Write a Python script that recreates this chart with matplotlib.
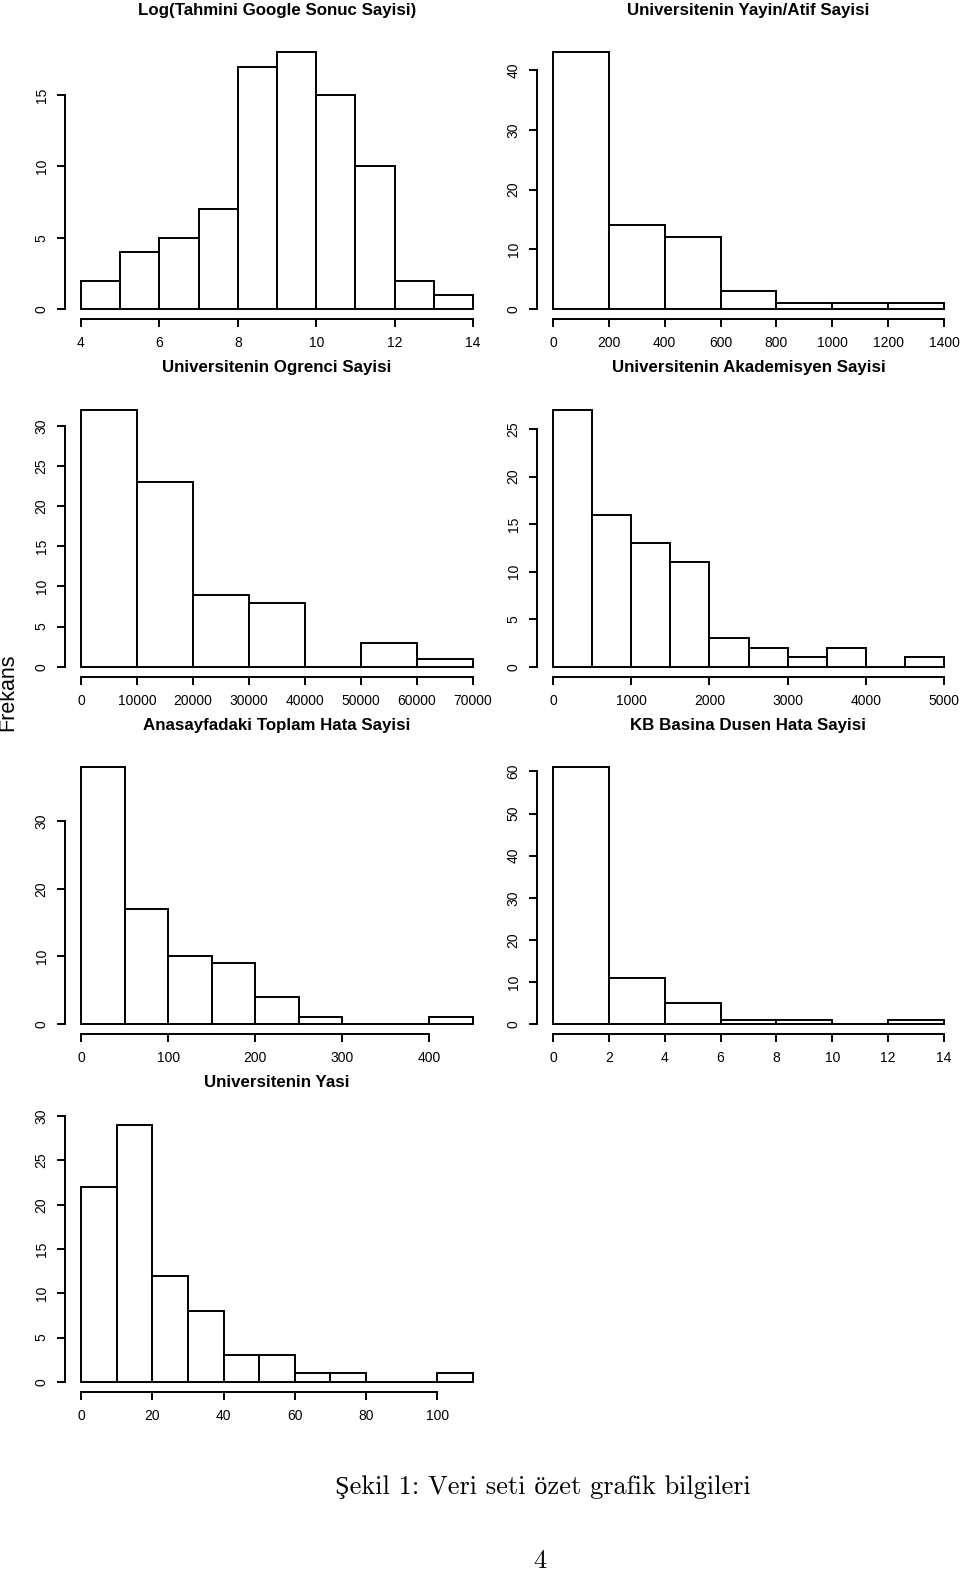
import matplotlib
matplotlib.use('Agg')
import matplotlib.pyplot as plt
import numpy as np

plt.rcParams['font.family'] = ['Liberation Sans', 'DejaVu Sans']

W, H = 960, 1576
DPI = 100

# --- data (bin edges + counts) ---
google_edges = [4, 5, 6, 7, 8, 9, 10, 11, 12, 13, 14]
google_counts = [2, 4, 5, 7, 17, 18, 15, 10, 2, 1]

atif_edges = [0, 200, 400, 600, 800, 1000, 1200, 1400]
atif_counts = [43, 14, 12, 3, 1, 1, 1]

ogrenci_edges = [0, 10000, 20000, 30000, 40000, 50000, 60000, 70000]
ogrenci_counts = [32, 23, 9, 8, 0, 3, 1]

akademisyen_edges = [0, 500, 1000, 1500, 2000, 2500, 3000, 3500, 4000, 4500, 5000]
akademisyen_counts = [27, 16, 13, 11, 3, 2, 1, 2, 0, 1]

hata_edges = [0, 50, 100, 150, 200, 250, 300, 350, 400, 450]
hata_counts = [38, 17, 10, 9, 4, 1, 0, 0, 1]

kb_edges = [0, 2, 4, 6, 8, 10, 12, 14]
kb_counts = [61, 11, 5, 1, 1, 0, 1]

yas_edges = [0, 10, 20, 30, 40, 50, 60, 70, 80, 90, 100, 110]
yas_counts = [22, 29, 12, 8, 3, 3, 1, 1, 0, 0, 1]

titles = ['Log(Tahmini Google Sonuc Sayisi)', 'Universitenin Yayin/Atif Sayisi',
          'Universitenin Ogrenci Sayisi', 'Universitenin Akademisyen Sayisi',
          'Anasayfadaki Toplam Hata Sayisi', 'KB Basina Dusen Hata Sayisi',
          'Universitenin Yasi']

xticks = [[4, 6, 8, 10, 12, 14],
          [0, 200, 400, 600, 800, 1000, 1200, 1400],
          [0, 10000, 20000, 30000, 40000, 50000, 60000, 70000],
          [0, 1000, 2000, 3000, 4000, 5000],
          [0, 100, 200, 300, 400],
          [0, 2, 4, 6, 8, 10, 12, 14],
          [0, 20, 40, 60, 80, 100]]
yticks = [[0, 5, 10, 15],
          [0, 10, 20, 30, 40],
          [0, 5, 10, 15, 20, 25, 30],
          [0, 5, 10, 15, 20, 25],
          [0, 10, 20, 30],
          [0, 10, 20, 30, 40, 50, 60],
          [0, 5, 10, 15, 20, 25, 30]]

edges = [google_edges, atif_edges, ogrenci_edges, akademisyen_edges,
         hata_edges, kb_edges, yas_edges]
counts = [google_counts, atif_counts, ogrenci_counts, akademisyen_counts,
          hata_counts, kb_counts, yas_counts]

# panel boxes in pixels (left, top)
col_x = [65.3, 537.4]
col_w = [423.4, 422.2]
row_top = [42, 399.7, 757, 1114.8]
box_h = 277.3

fig = plt.figure(figsize=(W / DPI, H / DPI), dpi=DPI)
fig.patch.set_facecolor('white')

LW = 1.4
for i in range(7):
    r, c = divmod(i, 2)
    left = col_x[c] / W
    bottom = 1 - (row_top[r] + box_h) / H
    ax = fig.add_axes([left, bottom, col_w[c] / W, box_h / H])

    e = np.array(edges[i], dtype=float)
    ax.bar(e[:-1], counts[i], width=np.diff(e), align='edge',
           facecolor='white', edgecolor='black', linewidth=LW, clip_on=False)

    # R-style 4% padding so the axes sit detached from the bars
    xr = e[-1] - e[0]
    ax.set_xlim(e[0] - 0.04 * xr, e[-1] + 0.04 * xr)
    ym = max(counts[i])
    ax.set_ylim(-0.04 * ym, 1.04 * ym)

    ax.set_xticks(xticks[i])
    ax.set_yticks(yticks[i])
    ax.set_xticklabels([str(v) for v in xticks[i]])
    ax.set_yticklabels([str(v) for v in yticks[i]])
    for s in ['top', 'right']:
        ax.spines[s].set_visible(False)
    ax.spines['left'].set_bounds(yticks[i][0], yticks[i][-1])
    ax.spines['bottom'].set_bounds(xticks[i][0], xticks[i][-1])
    for s in ['left', 'bottom']:
        ax.spines[s].set_linewidth(LW)
    ax.tick_params(length=6, width=LW, pad=6, labelsize=10, color='black')
    ax.tick_params(axis='y', labelrotation=90)
    for lab in ax.get_yticklabels():
        lab.set_verticalalignment('center')
    ax.set_facecolor('none')

    ax.annotate(titles[i], xy=(0.5, 1), xycoords='axes fraction',
                xytext=(0, 23), textcoords='offset points',
                ha='center', va='center', fontsize=12.2, fontweight='bold')

# shared y label, cut at the left edge like the original
fig.text(13 / W, 1 - 692 / H, 'Frekans', rotation=90, rotation_mode='anchor',
         ha='center', va='baseline', fontsize=15.5)

fig.text(543 / W, 1 - 1487 / H, 'Şekil 1: Veri seti özet grafik bilgileri',
         family=['cmr10', 'Liberation Serif'], fontsize=19, ha='center', va='center')
fig.text(540 / W, 1 - 1561 / H, '4',
         family=['cmr10', 'Liberation Serif'], fontsize=19, ha='center', va='center')

fig.savefig('out.png', dpi=DPI, facecolor='white')
